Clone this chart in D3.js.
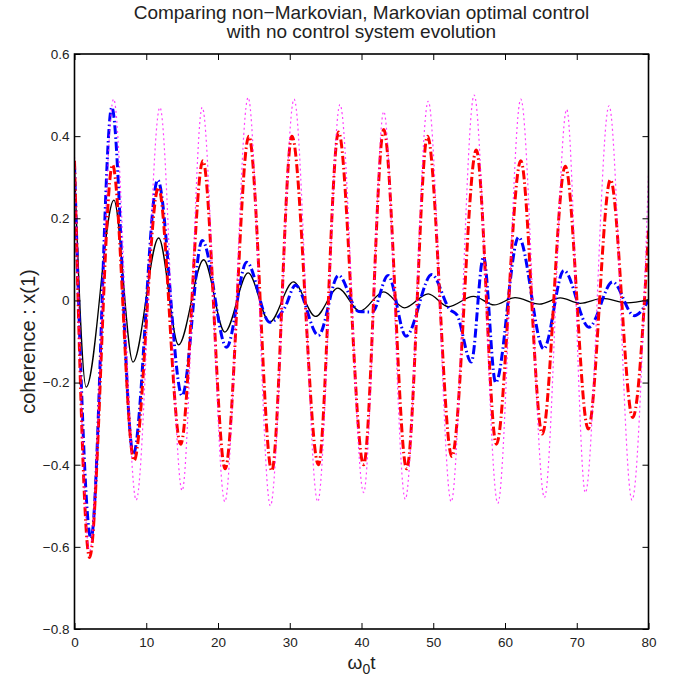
<!DOCTYPE html>
<html>
<head>
<meta charset="utf-8">
<script src="https://cdn.jsdelivr.net/npm/d3@7"></script>
<style>
  body { margin: 0; background: #fff; }
  svg { font-family: "Liberation Sans", Arial, Helvetica, sans-serif; }
</style>
</head>
<body>
<div id="chart-area"></div>
<script>
// curves as [t, value] at turning points
const blackSolid = [
  [0, 0.33], [1.63, -0.211], [5.49, 0.244], [8.15, -0.150], [11.73, 0.152],
  [14.5, -0.108], [18.0, 0.099], [20.95, -0.077], [24.2, 0.067], [27.2, -0.053],
  [30.5, 0.045], [33.6, -0.039], [36.7, 0.030], [39.8, -0.026], [43.1, 0.021],
  [46.0, -0.018], [49.3, 0.016], [52.1, -0.015], [55.6, 0.010], [58.5, -0.011],
  [61.4, 0.007], [64.8, -0.009], [67.7, 0.006], [70.5, -0.007], [73.6, 0.005],
  [77.0, -0.006], [80, 0.002]
];

const blueDashDot = [
  [0, 0.33], [2.3, -0.58], [5.2, 0.47], [8.2, -0.374], [11.6, 0.293],
  [15.0, -0.232], [17.8, 0.146], [21.2, -0.114], [24.0, 0.093], [27.2, -0.053],
  [29.3, -0.018], [30.8, 0.037], [34.0, -0.085], [36.8, 0.061], [39.6, -0.027],
  [41.5, -0.028], [43.7, 0.061], [46.2, -0.087], [49.8, 0.063], [52.3, -0.022],
  [53.3, -0.035], [55.3, -0.15], [57.0, 0.106], [58.7, -0.2], [61.9, 0.154],
  [65.4, -0.118], [68.2, 0.073], [71.7, -0.065], [75.0, 0.045], [78.0, -0.037],
  [80, 0.0]
];

const redDashDot = [
  [0, 0.34], [2.1, -0.626], [5.3, 0.33], [8.3, -0.39], [11.7, 0.275],
  [14.8, -0.35], [17.9, 0.34], [21.0, -0.41], [24.3, 0.40], [27.5, -0.415],
  [30.3, 0.40], [34.0, -0.40], [36.8, 0.41], [40.3, -0.40], [43.1, 0.416],
  [46.3, -0.41], [49.2, 0.40], [52.6, -0.38], [56.0, 0.366], [58.8, -0.35],
  [62.2, 0.34], [65.2, -0.325], [68.4, 0.327], [71.6, -0.313], [74.7, 0.294],
  [77.8, -0.285], [80, 0.17]
];

const magentaDotted = [
  [0, 0.35], [2.1, -0.61], [5.45, 0.49], [8.6, -0.486], [11.9, 0.47],
  [15.0, -0.463], [17.8, 0.47], [20.95, -0.49], [24.2, 0.494], [27.3, -0.50],
  [30.6, 0.49], [33.9, -0.49], [37.0, 0.477], [40.3, -0.468], [43.1, 0.46],
  [46.1, -0.484], [49.3, 0.485], [52.5, -0.49], [55.7, 0.50], [59.0, -0.494],
  [62.2, 0.49], [65.5, -0.48], [68.6, 0.465], [71.2, -0.468], [74.5, 0.474],
  [77.7, -0.486], [80, 0.31]
];

const xTicks = [0, 10, 20, 30, 40, 50, 60, 70, 80];
const yTicks = [-0.8, -0.6, -0.4, -0.2, 0, 0.2, 0.4, 0.6];

const titleLines = ["Comparing non\u2212Markovian, Markovian optimal control",
                    "with no control system evolution"];

// plot box
let margin = {left: 74.5, top: 54, right: 27.5, bottom: 49};
let width = 676 - margin.left - margin.right,
    height = 678 - margin.top - margin.bottom;

let svg = d3.select("#chart-area")
  .append("svg")
  .attr("width", 676)
  .attr("height", 678);

let group = svg.append("g")
  .attr("transform", "translate(" + margin.left + ", " + margin.top + ")");

let x = d3.scaleLinear().domain([0, 80]).range([0, width]);
let y = d3.scaleLinear().domain([-0.8, 0.6]).range([height, 0]);

let yFmt = d => d === 0 ? "0" : d3.format(".1f")(d);

// clip so thick lines stay inside the box
group.append("clipPath").attr("id", "clip")
  .append("rect").attr("width", width).attr("height", height);

let line = d3.line()
  .x(d => x(d[0]))
  .y(d => y(d[1]))
  .curve(d3.curveMonotoneX);

let plot = group.append("g").attr("clip-path", "url(#clip)");

plot.append("path").datum(blackSolid)
  .attr("fill", "none").attr("stroke", "#000").attr("stroke-width", 1.3)
  .attr("d", line);

plot.append("path").datum(blueDashDot)
  .attr("fill", "none").attr("stroke", "#0000ff").attr("stroke-width", 3)
  .attr("stroke-dasharray", "9,3,1.5,3")
  .attr("d", line);

plot.append("path").datum(redDashDot)
  .attr("fill", "none").attr("stroke", "#ff0000").attr("stroke-width", 3)
  .attr("stroke-dasharray", "9,3,1.5,3")
  .attr("d", line);

plot.append("path").datum(magentaDotted)
  .attr("fill", "none").attr("stroke", "#ff00ff").attr("stroke-width", 1.2)
  .attr("stroke-opacity", 0.75)
  .attr("stroke-dasharray", "2,3")
  .attr("d", line);

// axes, ticks pointing inward on all four sides
let xAxis = group.append("g")
  .attr("transform", "translate(0, " + height + ")")
  .call(d3.axisBottom(x).tickValues(xTicks).tickSizeInner(-6).tickSizeOuter(0).tickPadding(8));
let yAxis = group.append("g")
  .call(d3.axisLeft(y).tickValues(yTicks).tickFormat(yFmt).tickSizeInner(-6).tickSizeOuter(0).tickPadding(5));
group.append("g")
  .call(d3.axisTop(x).tickValues(xTicks).tickSizeInner(-6).tickSizeOuter(0).tickFormat(""));
group.append("g")
  .attr("transform", "translate(" + width + ", 0)")
  .call(d3.axisRight(y).tickValues(yTicks).tickSizeInner(-6).tickSizeOuter(0).tickFormat(""));

group.selectAll(".domain").remove();
group.selectAll(".tick line").attr("stroke", "#000").attr("stroke-width", 1);
group.selectAll(".tick text").attr("font-size", "13.5px").attr("fill", "#222")
  .attr("font-family", "Liberation Sans, Arial, sans-serif");

group.append("rect")
  .attr("width", width).attr("height", height)
  .attr("fill", "none").attr("stroke", "#000").attr("stroke-width", 1.6);

// title
svg.append("g").selectAll("text")
  .data(titleLines)
  .enter()
  .append("text")
  .attr("x", margin.left + width / 2)
  .attr("y", (d, i) => 19 + i * 19)
  .attr("text-anchor", "middle")
  .attr("font-size", "19px")
  .attr("fill", "#222")
  .text(d => d);

// y label
svg.append("text")
  .attr("transform", "translate(35, " + (margin.top + height / 2) + ") rotate(-90)")
  .attr("text-anchor", "middle")
  .attr("font-size", "20px")
  .attr("fill", "#222")
  .text("coherence : x(1)");

// x label
let xl = svg.append("text")
  .attr("x", margin.left + width / 2)
  .attr("y", 669)
  .attr("text-anchor", "middle")
  .attr("font-size", "19px")
  .attr("fill", "#222");
xl.append("tspan").text("\u03c9");
xl.append("tspan").attr("dy", 5).attr("font-size", "14px").text("0");
xl.append("tspan").attr("dy", -5).text("t");
</script>
</body>
</html>
